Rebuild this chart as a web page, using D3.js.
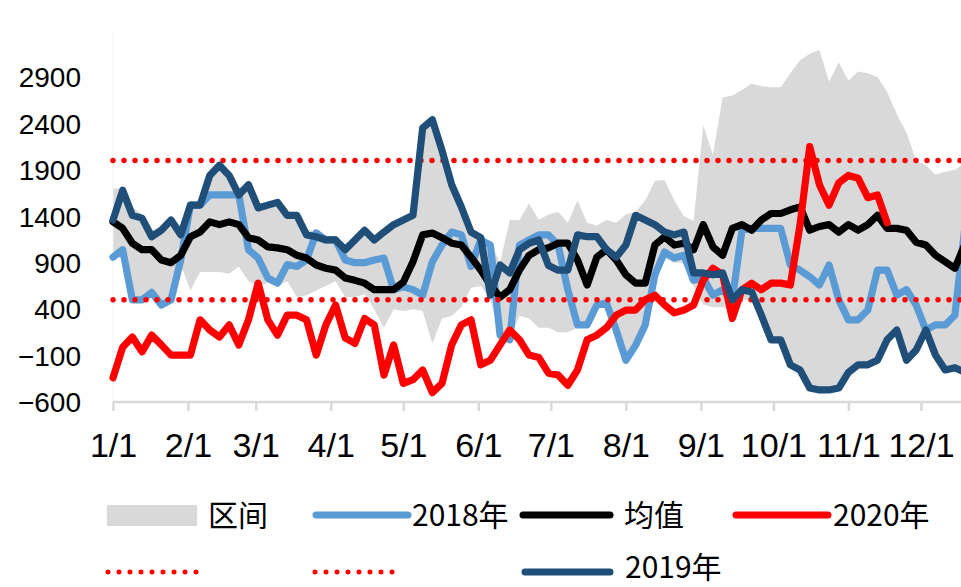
<!DOCTYPE html>
<html><head><meta charset="utf-8">
<script src="https://cdn.jsdelivr.net/npm/d3@7/dist/d3.min.js"></script>
<style>body{margin:0;background:#fff;overflow:hidden} svg{display:block}</style>
</head><body><svg id="c" width="961" height="587"></svg>
<script>
// ---- data (day-of-year grid, every 4 days) ----
const days = d3.range(0, 356, 4);
const monthLabels = ["1/1","2/1","3/1","4/1","5/1","6/1","7/1","8/1","9/1","10/1","11/1","12/1"];
const monthDays = [0,31,59,90,120,151,181,212,243,273,304,334];
const yTickValues = [-600,-100,400,900,1400,1900,2400,2900];
const refValues = [2000, 500];

const bandHigh = [1700,1700,1500,1420,1250,1300,1400,1300,1550,1550,
  1850,1980,1860,1700,1760,1520,1550,1580,1450,1450,
  1250,1250,1180,1180,1100,1180,1280,1180,1260,1340,
  1390,1440,2380,2470,2140,1770,1530,1270,1200,1120,
  900,1360,1360,1540,1360,1420,1450,1330,1570,1330,
  1300,1360,1330,1420,1450,1570,1780,1790,1570,1400,
  1350,2380,2060,2680,2700,2760,2830,2800,2790,2790,
  2940,3080,3150,3190,2850,3060,2860,2960,2940,2900,
  2740,2500,2300,2000,1950,1850,1880,1900,1970];
const bandLow = [950,1000,480,480,560,430,480,880,600,800,
  800,800,780,860,700,650,680,650,700,530,
  550,600,650,700,530,530,560,400,200,400,
  380,400,380,30,300,330,420,630,650,500,
  100,60,330,300,200,200,150,150,200,200,
  400,430,150,-170,0,200,760,950,900,900,
  650,450,420,420,380,500,500,250,50,50,
  -220,-275,-470,-490,-490,-470,-300,-220,-220,-170,
  50,150,-170,-60,150,-115,-275,-250,-300];
const s2018 = [960,1040,500,500,580,445,500,930,1520,1520,
  1630,1630,1630,1630,1040,950,735,680,880,860,
  930,1220,1145,1145,930,900,900,930,950,610,
  640,610,550,910,1090,1230,1200,860,1145,1090,
  120,70,1090,1145,1200,1200,1090,610,230,230,
  445,465,175,-150,10,230,770,1015,950,980,
  710,735,550,610,500,1250,1270,1270,1270,1270,
  875,820,750,660,875,500,285,285,390,820,
  820,550,610,445,175,230,230,335,1250];
const s2019 = [1360,1680,1410,1380,1180,1250,1360,1200,1520,1520,
  1840,1950,1840,1630,1740,1490,1520,1550,1410,1410,
  1200,1180,1145,1145,1040,1145,1250,1145,1230,1310,
  1360,1410,2350,2440,2110,1740,1500,1230,1170,550,
  875,790,1040,1110,1145,870,820,820,1200,1180,
  1180,1040,960,1090,1410,1360,1310,1230,1200,1230,
  790,790,770,790,500,610,585,335,70,70,
  -200,-255,-450,-470,-470,-450,-280,-200,-200,-150,
  70,175,-150,-40,175,-95,-255,-230,-280];
const sMean = [1340,1270,1110,1040,1040,930,900,980,1180,1230,
  1340,1310,1340,1310,1170,1145,1070,1060,1040,980,
  950,875,840,820,735,710,680,610,610,610,
  690,910,1200,1220,1170,1110,1090,960,820,660,
  530,610,820,980,1040,1060,1110,1110,930,660,
  960,1040,930,770,680,680,1090,1180,1090,1110,
  1040,1310,1070,980,1270,1310,1250,1360,1430,1430,
  1470,1500,1250,1290,1310,1230,1310,1250,1310,1410,
  1270,1270,1250,1120,1090,980,910,840,1090];
const s2020 = [-340,-10,100,-60,120,15,-95,-95,-95,285,
  175,100,230,15,285,680,285,120,335,335,
  285,-95,230,445,90,30,300,230,-310,15,
  -400,-360,-255,-500,-400,15,230,285,-200,-150,
  15,175,70,-95,-120,-290,-310,-420,-255,70,
  120,200,335,390,390,500,550,445,360,390,
  445,714,840,770,300,610,680,610,680,680,
  660,1310,2150,1740,1520,1760,1840,1810,1600,1630,
  1330,null,null,null,null,null,null,null,null];

// ---- chart ----
const svg = d3.select("#c");
const x = d3.scaleLinear().domain([0, 334]).range([113, 921]);
const y = d3.scaleLinear().domain([-600, 2900]).range([402, 77]);

const C = {band:"#D9D9D9", s18:"#5B9BD5", s19:"#1F4E79", mean:"#000000", s20:"#FF0000", axis:"#D9D9D9"};
const LW = 7.2;

// band
const area = d3.area().x((d,i)=>x(days[i])).y0((d,i)=>y(bandLow[i])).y1((d,i)=>y(bandHigh[i]));
svg.append("path").datum(days).attr("d", area).attr("fill", C.band);

// y axis line (faint)
svg.append("line").attr("x1",113).attr("x2",113).attr("y1",y(3400)).attr("y2",y(-600))
  .attr("stroke","#F2F2F2").attr("stroke-width",1);

// x axis
const xAxis = d3.axisBottom(x).tickValues(monthDays).tickFormat((d,i)=>monthLabels[i]).tickSize(9).tickSizeOuter(0);
const gx = svg.append("g").attr("transform",`translate(0,${y(-600)})`).call(xAxis);
gx.select(".domain").remove();
gx.insert("line",":first-child").attr("x1",113).attr("x2",961).attr("y1",0).attr("y2",0)
  .attr("stroke",C.axis).attr("stroke-width",2.5);
gx.selectAll(".tick line").attr("stroke",C.axis).attr("stroke-width",2.5);
gx.selectAll(".tick text").attr("y",55).attr("dy",0)
  .style("font-family","'Liberation Sans Narrow','Liberation Sans',Arial,sans-serif")
  .style("font-size","34px").attr("fill","#000");

// y axis labels
const yAxis = d3.axisLeft(y).tickValues(yTickValues).tickFormat(d3.format("d")).tickSize(0).tickPadding(0);
const gy = svg.append("g").attr("transform","translate(81,0)").call(yAxis);
gy.select(".domain").remove();
gy.selectAll(".tick text").attr("x",0).attr("dy","0.35em")
  .style("font-family","'Liberation Sans',Arial,sans-serif").style("font-size","28px").attr("fill","#000");

// lines
const lineGen = arr => d3.line().defined((d,i)=>arr[i]!=null).x((d,i)=>x(days[i])).y((d,i)=>y(arr[i]));
function drawLine(arr, color){
  svg.append("path").datum(days).attr("d", lineGen(arr)).attr("fill","none")
    .attr("stroke",color).attr("stroke-width",LW).attr("stroke-linejoin","round").attr("stroke-linecap","round");
}
drawLine(s2018, C.s18);
drawLine(sMean, C.mean);
drawLine(s2020, C.s20);
// dotted reference lines
refValues.forEach(v=>{
  svg.append("line").attr("x1",x(0)).attr("x2",961).attr("y1",y(v)).attr("y2",y(v))
    .attr("stroke",C.s20).attr("stroke-width",5.5).attr("stroke-linecap","round").attr("stroke-dasharray","0 11");
});
drawLine(s2019, C.s19);

// legend
const lg = svg.append("g");
const txtStyle = s => s.style("font-family","'Liberation Sans Narrow','Noto Sans CJK SC',sans-serif").style("font-size","30px").attr("fill","#000");
lg.append("rect").attr("x",107).attr("y",505).attr("width",90).attr("height",21).attr("fill",C.band);
lg.append("text").attr("x",208).attr("y",526).text("区间").call(txtStyle);
const legLine = (x1,x2,yy,color,dash)=>{
  const l = lg.append("line").attr("x1",x1).attr("x2",x2).attr("y1",yy).attr("y2",yy).attr("stroke",color)
    .attr("stroke-linecap","round");
  if(dash) l.attr("stroke-width",5).attr("stroke-dasharray","0 11"); else l.attr("stroke-width",7);
};
legLine(316,408,515,C.s18);
lg.append("text").attr("x",412).attr("y",526).text("2018年").call(txtStyle);
legLine(523,610,515,C.mean);
lg.append("text").attr("x",624).attr("y",526).text("均值").call(txtStyle);
legLine(736,828,515,C.s20);
lg.append("text").attr("x",833).attr("y",526).text("2020年").call(txtStyle);
legLine(108,197,572,C.s20,true);
legLine(315,395,572,C.s20,true);
legLine(525,610,572,C.s19);
lg.append("text").attr("x",625).attr("y",578).text("2019年").call(txtStyle);
</script></body></html>
